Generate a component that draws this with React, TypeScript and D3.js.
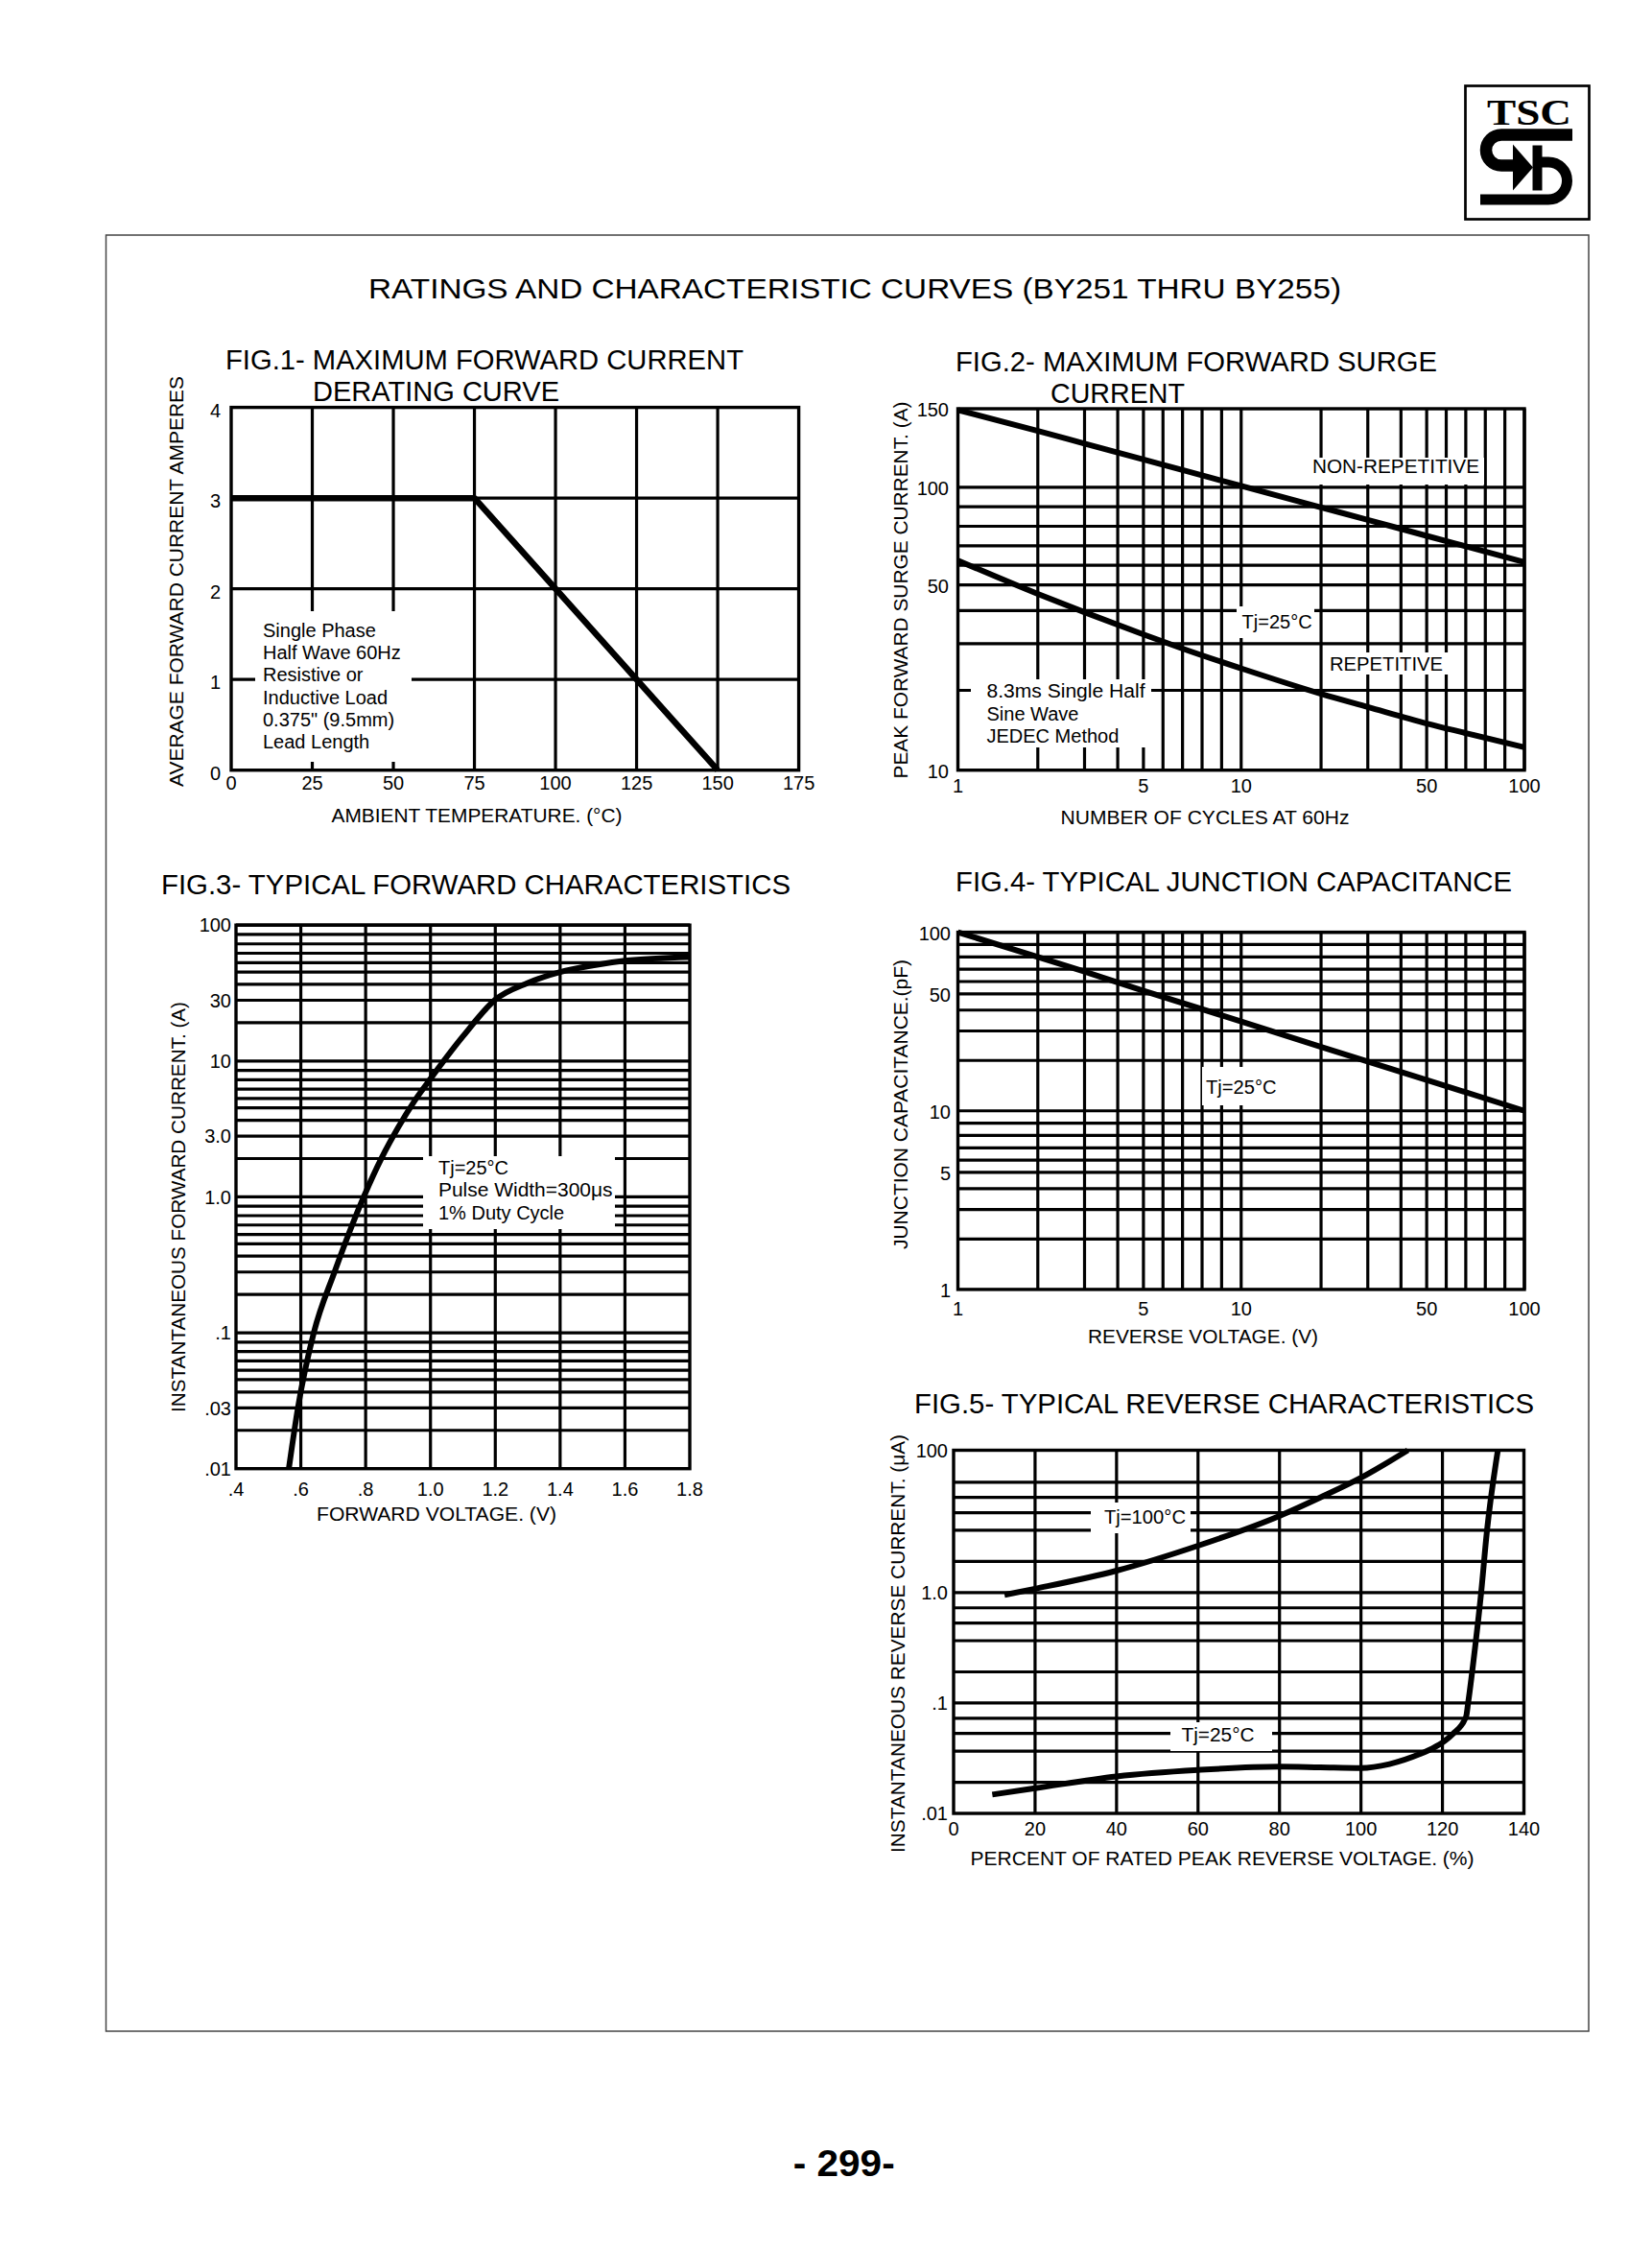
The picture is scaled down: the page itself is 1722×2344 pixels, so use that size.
import React from "react";
import * as d3 from "d3";

const FONT = "'Liberation Sans', Arial, Helvetica, sans-serif";
const SERIF = "'Liberation Serif', 'Times New Roman', serif";

// ---------------- data ----------------
// Fig.1 derating curve
const fig1Temp = [0, 75, 150];
const fig1Amps = [3, 3, 0];
const fig1XTicks = [0, 25, 50, 75, 100, 125, 150, 175];
const fig1YTicks = [0, 1, 2, 3, 4];

// Fig.2 surge current
const fig2NonRepCycles = [1, 2, 3, 5, 7, 10, 20, 30, 50, 70, 100];
const fig2NonRepAmps = [149, 133.8, 125.3, 115.4, 109.3, 100.7, 89.7, 83.3, 75.1, 69.7, 61.6];
const fig2RepCycles = [1, 2, 3, 5, 7, 10, 20, 30, 50, 70, 100];
const fig2RepAmps = [62.5, 46.2, 39.4, 32.5, 28.75, 24.2, 19.4, 17.3, 15.0, 13.8, 12.2];
const fig2XTicks = [1, 5, 10, 50, 100];
const fig2YTicks = [10, 50, 100, 150];

// Fig.3 forward characteristics
const fig3Volts = [0.563, 0.591, 0.64, 0.704, 0.794, 0.85, 0.9, 0.95, 1.0, 1.1, 1.2, 1.3, 1.4, 1.5, 1.6, 1.8];
const fig3Amps = [0.01, 0.03, 0.1, 0.3, 1.0, 2.04, 3.5, 5.7, 8.1, 15.6, 30.3, 41, 50, 57, 62, 66];
const fig3XTicks = [0.4, 0.6, 0.8, 1.0, 1.2, 1.4, 1.6, 1.8];
const fig3XLabels = [".4", ".6", ".8", "1.0", "1.2", "1.4", "1.6", "1.8"];
const fig3YTicks = [0.01, 0.03, 0.1, 1, 3, 10, 30, 100];
const fig3YLabels = [".01", ".03", ".1", "1.0", "3.0", "10", "30", "100"];

// Fig.4 junction capacitance
const fig4Volts = [1, 2, 3, 5, 10, 20, 50, 100];
const fig4Cap = [100, 80, 68, 52.5, 34.2, 24.1, 15.3, 10];
const fig4Ticks = [1, 5, 10, 50, 100];

// Fig.5 reverse characteristics
const fig5Pct100 = [12.5, 20, 40, 60, 80, 90, 100, 111.5];
const fig5Ir100 = [0.97, 1.09, 1.63, 2.84, 5.58, 8.0, 14.1, 100];
const fig5Pct25 = [9.5, 20, 40, 60, 80, 90, 100, 107, 114.5, 117.5, 120.5, 122.5, 125.8, 126.3, 128.0, 129.5, 130.9, 133.6];
const fig5Ir25 = [0.0152, 0.0175, 0.0228, 0.0263, 0.0283, 0.0279, 0.0275, 0.03, 0.0375, 0.0424, 0.05, 0.0592, 0.082, 0.1, 0.342, 1.0, 3.86, 100];
const fig5XTicks = [0, 20, 40, 60, 80, 100, 120, 140];
const fig5YTicks = [0.01, 0.1, 1, 100];
const fig5YLabels = [".01", ".1", "1.0", "100"];

// -------------- helpers --------------
// datasheet-style log scale: within a decade 1..5 log, 5..10 linear
const K = 0.655;
function dsU(v: number): number {
  const d = Math.floor(Math.log10(v) + 1e-9);
  const m = v / Math.pow(10, d);
  const f = m <= 5 ? (K * Math.log(m)) / Math.log(5) : K + ((1 - K) * (m - 5)) / 5;
  return d + f;
}
function dsScale(domain: number[], range: number[]) {
  const lin = d3.scaleLinear().domain(domain.map(dsU)).range(range);
  return (v: number) => lin(dsU(v));
}
const decadeLines = (bases: number[], mults: number[]) =>
  bases.flatMap((b) => mults.map((m) => +(b * m).toPrecision(6)));

const GW = 3.2;
const CW = 6;

type TP = {
  x: number; y: number; s: string; size?: number; anchor?: "start" | "middle" | "end";
  len?: number; rot?: number; weight?: string | number; family?: string;
};
function T({ x, y, s, size = 20, anchor = "start", len, rot, weight, family = FONT }: TP) {
  return (
    <text
      transform={`translate(${x},${y})${rot ? ` rotate(${rot})` : ""}`}
      x={0}
      y={size * 0.358}
      fontSize={size}
      fontFamily={family}
      fontWeight={weight}
      textAnchor={anchor}
      textLength={len}
      lengthAdjust={len ? "spacingAndGlyphs" : undefined}
      fill="#000"
    >
      {s}
    </text>
  );
}

type Box = { l: number; r: number; t: number; b: number };

function Grid({ box, xs, ys, x, y }: { box: Box; xs: number[]; ys: number[]; x: (v: number) => number; y: (v: number) => number }) {
  return (
    <g stroke="#000" strokeWidth={GW}>
      {xs.map((v, i) => (
        <line key={"v" + i} x1={x(v)} x2={x(v)} y1={box.t} y2={box.b} />
      ))}
      {ys.map((v, i) => (
        <line key={"h" + i} x1={box.l} x2={box.r} y1={y(v)} y2={y(v)} />
      ))}
    </g>
  );
}
function Frame({ box }: { box: Box }) {
  return <rect x={box.l} y={box.t} width={box.r - box.l} height={box.b - box.t} fill="none" stroke="#000" strokeWidth={3.4} />;
}
function WBox({ x0, x1, y0, y1 }: { x0: number; x1: number; y0: number; y1: number }) {
  return <rect x={x0} y={y0} width={x1 - x0} height={y1 - y0} fill="#fff" />;
}
function Curve({ xs, ys, x, y, curve = d3.curveMonotoneX, w = CW }: any) {
  const pts: [number, number][] = xs.map((v: number, i: number) => [x(v), y(ys[i])]);
  const d = d3.line().curve(curve)(pts) || "";
  return <path d={d} fill="none" stroke="#000" strokeWidth={w} strokeLinejoin="round" />;
}

// -------------- figures --------------
function Fig1() {
  const box: Box = { l: 241, r: 832.6, t: 424.6, b: 802.7 };
  const x = d3.scaleLinear().domain([0, 175]).range([box.l, box.r]);
  const y = d3.scaleLinear().domain([0, 4]).range([box.b, box.t]);
  const notes = ["Single Phase", "Half Wave 60Hz", "Resistive or", "Inductive Load", "0.375\" (9.5mm)", "Lead Length"];
  return (
    <g>
      <Grid box={box} xs={fig1XTicks.slice(1, -1)} ys={fig1YTicks.slice(1, -1)} x={x} y={y} />
      <WBox x0={266} x1={429} y0={637} y1={794} />
      <Frame box={box} />
      {notes.map((n, i) => (
        <T key={i} x={274} y={656.5 + i * 23.3} s={n} size={20} />
      ))}
      <Curve xs={fig1Temp} ys={fig1Amps} x={x} y={y} curve={d3.curveLinear} w={6.5} />
      {fig1XTicks.map((v) => (
        <T key={v} x={x(v)} y={816} s={String(v)} anchor="middle" />
      ))}
      {fig1YTicks.map((v) => (
        <T key={v} x={230} y={y(v) + 3} s={String(v)} anchor="end" />
      ))}
      <T x={235} y={375} s="FIG.1- MAXIMUM FORWARD CURRENT" size={29} len={540} />
      <T x={326} y={408} s="DERATING CURVE" size={29} len={257} />
      <T x={497} y={850} s="AMBIENT TEMPERATURE. (°C)" anchor="middle" len={303} />
      <T x={184} y={606} s="AVERAGE FORWARD CURRENT AMPERES" anchor="middle" rot={-90} len={428} />
    </g>
  );
}

function Fig2() {
  const box: Box = { l: 998.5, r: 1589, t: 426, b: 802.7 };
  const x = dsScale([1, 100], [box.l, box.r]);
  const y = dsScale([10, 100, 150], [box.b, box.b - 0.7828 * (box.b - box.t), box.t]);
  const xs = decadeLines([1, 10], [2, 3, 4, 5, 6, 7, 8, 9, 10]);
  const ys = decadeLines([10], [2, 3, 4, 5, 6, 7, 8, 9, 10]);
  return (
    <g>
      <Grid box={box} xs={xs} ys={ys} x={x} y={y} />
      <WBox x0={1366} x1={1547} y0={477} y1={505} />
      <WBox x0={1289} x1={1370} y0={632} y1={665} />
      <WBox x0={1379} x1={1510} y0={680} y1={703} />
      <WBox x0={1012} x1={1200} y0={708} y1={779} />
      <Frame box={box} />
      <T x={1368} y={486} s="NON-REPETITIVE" len={174} />
      <T x={1294.6} y={648} s="Tj=25°C" len={73} />
      <T x={1386} y={692} s="REPETITIVE" len={118} />
      <T x={1028.5} y={720} s="8.3ms Single Half" len={165} />
      <T x={1028.5} y={743.5} s="Sine Wave" />
      <T x={1028.5} y={766.5} s="JEDEC Method" />
      <Curve xs={fig2NonRepCycles} ys={fig2NonRepAmps} x={x} y={y} />
      <Curve xs={fig2RepCycles} ys={fig2RepAmps} x={x} y={y} />
      {fig2XTicks.map((v) => (
        <T key={v} x={x(v)} y={819} s={String(v)} anchor="middle" />
      ))}
      {fig2YTicks.map((v) => (
        <T key={v} x={989} y={y(v) + 1} s={String(v)} anchor="end" />
      ))}
      <T x={996} y={377} s="FIG.2- MAXIMUM FORWARD SURGE" size={29} len={502} />
      <T x={1095} y={410} s="CURRENT" size={29} len={140} />
      <T x={1256} y={852} s="NUMBER OF CYCLES AT 60Hz" anchor="middle" len={301} />
      <T x={939} y={615} s="PEAK FORWARD SURGE CURRENT. (A)" anchor="middle" rot={-90} len={393} />
    </g>
  );
}

function Fig3() {
  const box: Box = { l: 246, r: 719, t: 964.2, b: 1530.7 };
  const x = d3.scaleLinear().domain([0.4, 1.8]).range([box.l, box.r]);
  const y = dsScale([0.01, 100], [box.b, box.t]);
  const ys = decadeLines([0.01, 0.1, 1, 10], [2, 3, 4, 5, 6, 7, 8, 9, 10]);
  const notes = ["Tj=25°C", "Pulse Width=300μs", "1% Duty Cycle"];
  return (
    <g>
      <Grid box={box} xs={fig3XTicks.slice(1, -1)} ys={ys} x={x} y={y} />
      <WBox x0={441} x1={641} y0={1205} y1={1281} />
      <Frame box={box} />
      {notes.map((n, i) => (
        <T key={i} x={457} y={1216.5 + i * 23.7} s={n} size={20} len={i === 1 ? 181.5 : undefined} />
      ))}
      <Curve xs={fig3Volts} ys={fig3Amps} x={x} y={y} />
      {fig3XTicks.map((v, i) => (
        <T key={v} x={x(v)} y={1552} s={fig3XLabels[i]} anchor="middle" />
      ))}
      {fig3YTicks.map((v, i) => (
        <T key={v} x={241} y={y(v)} s={fig3YLabels[i]} anchor="end" />
      ))}
      <T x={168} y={922} s="FIG.3- TYPICAL FORWARD CHARACTERISTICS" size={29} len={656} />
      <T x={455} y={1578} s="FORWARD VOLTAGE. (V)" anchor="middle" len={250} />
      <T x={186} y={1258} s="INSTANTANEOUS FORWARD CURRENT. (A)" anchor="middle" rot={-90} len={428} />
    </g>
  );
}

function Fig4() {
  const box: Box = { l: 998.5, r: 1589, t: 971.6, b: 1343.9 };
  const x = dsScale([1, 100], [box.l, box.r]);
  const y = dsScale([1, 100], [box.b, box.t]);
  const ls = decadeLines([1, 10], [2, 3, 4, 5, 6, 7, 8, 9, 10]);
  return (
    <g>
      <Grid box={box} xs={ls} ys={ls} x={x} y={y} />
      <WBox x0={1253} x1={1333} y0={1112} y1={1152} />
      <Frame box={box} />
      <T x={1257} y={1133} s="Tj=25°C" len={73.6} />
      <Curve xs={fig4Volts} ys={fig4Cap} x={x} y={y} curve={d3.curveLinear} />
      {fig4Ticks.map((v) => (
        <T key={"x" + v} x={x(v)} y={1364} s={String(v)} anchor="middle" />
      ))}
      {fig4Ticks.map((v) => (
        <T key={"y" + v} x={991} y={y(v) + 1} s={String(v)} anchor="end" />
      ))}
      <T x={996} y={919} s="FIG.4- TYPICAL JUNCTION CAPACITANCE" size={29} len={580} />
      <T x={1254} y={1393} s="REVERSE VOLTAGE. (V)" anchor="middle" len={240} />
      <T x={939} y={1151} s="JUNCTION CAPACITANCE.(pF)" anchor="middle" rot={-90} len={302} />
    </g>
  );
}

function Fig5() {
  const box: Box = { l: 994, r: 1588.5, t: 1511.5, b: 1890 };
  const x = d3.scaleLinear().domain([0, 140]).range([box.l, box.r]);
  const y = dsScale([0.01, 10, 100], [box.b, box.b - 0.912 * (box.b - box.t), box.t]);
  const ys = decadeLines([0.01, 0.1, 1], [2, 4, 6, 8, 10]);
  return (
    <g>
      <Grid box={box} xs={fig5XTicks.slice(1, -1)} ys={ys} x={x} y={y} />
      <WBox x0={1137} x1={1241} y0={1566} y1={1598} />
      <WBox x0={1220} x1={1326} y0={1795} y1={1825} />
      <Frame box={box} />
      <T x={1151} y={1581} s="Tj=100°C" len={85} />
      <T x={1231.5} y={1808} s="Tj=25°C" len={76} />
      <Curve xs={fig5Pct100} ys={fig5Ir100} x={x} y={y} />
      <Curve xs={fig5Pct25} ys={fig5Ir25} x={x} y={y} />
      {fig5XTicks.map((v) => (
        <T key={v} x={x(v)} y={1906} s={String(v)} anchor="middle" />
      ))}
      {fig5YTicks.map((v, i) => (
        <T key={v} x={988} y={y(v)} s={fig5YLabels[i]} anchor="end" />
      ))}
      <T x={953} y={1463} s="FIG.5- TYPICAL REVERSE CHARACTERISTICS" size={29} len={646} />
      <T x={1274} y={1937} s="PERCENT OF RATED PEAK REVERSE VOLTAGE. (%)" anchor="middle" len={525} />
      <T x={936} y={1713} s="INSTANTANEOUS REVERSE CURRENT. (μA)" anchor="middle" rot={-90} len={436} />
    </g>
  );
}

function Logo() {
  return (
    <g>
      <rect x={1527.5} y={89.5} width={129} height={139} fill="none" stroke="#000" strokeWidth={2.7} />
      <text x={1594} y={130} textAnchor="middle" fontFamily={SERIF} fontWeight="bold" fontSize={37} textLength={88} lengthAdjust="spacingAndGlyphs">
        TSC
      </text>
      <path d="M1639 140.5 H1565 A16 16 0 0 0 1565 172.5 H1580" fill="none" stroke="#000" strokeWidth={12.5} />
      <path d="M1577 150.5 L1598 174.5 L1577 198.5 Z" fill="#000" />
      <rect x={1597.5} y={151.5} width={10} height={47} fill="#000" />
      <path d="M1605 169 H1614 A19.5 19.5 0 0 1 1614 208 H1543" fill="none" stroke="#000" strokeWidth={11} />
    </g>
  );
}

export default function App() {
  return (
    <svg width={1722} height={2344} viewBox="0 0 1722 2344" style={{ position: "absolute", left: 0, top: 0, background: "#fff" }}>
      <rect x={0} y={0} width={1722} height={2344} fill="#fff" />
      <Logo />
      <rect x={110.5} y={245} width={1545.5} height={1872} fill="none" stroke="#444" strokeWidth={1.5} />
      <T x={384} y={300.5} s="RATINGS AND CHARACTERISTIC CURVES (BY251 THRU BY255)" size={30} len={1014} />
      <Fig1 />
      <Fig2 />
      <Fig3 />
      <Fig4 />
      <Fig5 />
      <text x={826.7} y={2267.7} fontFamily={FONT} fontWeight="bold" fontSize={38} textLength={106} lengthAdjust="spacingAndGlyphs">
        - 299-
      </text>
    </svg>
  );
}
